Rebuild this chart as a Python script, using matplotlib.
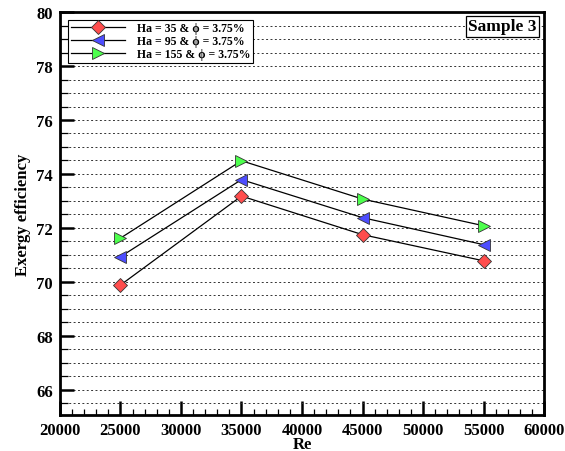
import numpy as np
import matplotlib
matplotlib.use("Agg")
import matplotlib.pyplot as plt
from matplotlib.ticker import MultipleLocator

plt.rcParams['font.family'] = ['Liberation Serif', 'DejaVu Serif']
plt.rcParams['font.weight'] = 'bold'

re_vals = [25000, 35000, 45000, 55000]
ha35 = [69.88, 73.18, 71.75, 70.78]
ha95 = [70.93, 73.79, 72.38, 71.38]
ha155 = [71.62, 74.49, 73.07, 72.08]

labels = ['Ha = 35 & \u03d5 = 3.75%',
          'Ha = 95 & \u03d5 = 3.75%',
          'Ha = 155 & \u03d5 = 3.75%']


def main():
    fig = plt.figure(figsize=(5.65, 4.52), dpi=100)
    ax = fig.add_axes([0.106, 0.080, 0.857, 0.891])

    ax.plot(re_vals, ha35, color='black', lw=0.9, marker='D', ms=7,
            mfc='#ff4d4d', mec='#333333', mew=0.6, label=labels[0])
    ax.plot(re_vals, ha95, color='black', lw=0.9, marker='<', ms=8,
            mfc='#4d4dff', mec='#333333', mew=0.6, label=labels[1])
    ax.plot(re_vals, ha155, color='black', lw=0.9, marker='>', ms=8,
            mfc='#4dff4d', mec='#333333', mew=0.6, label=labels[2])

    ax.set_xlim(20000, 60000)
    ax.set_ylim(65.07, 80)
    ax.xaxis.set_major_locator(MultipleLocator(5000))
    ax.xaxis.set_minor_locator(MultipleLocator(1000))
    ax.yaxis.set_major_locator(MultipleLocator(2))
    ax.yaxis.set_minor_locator(MultipleLocator(0.5))

    ax.grid(True, which='both', axis='y', color='#333333',
            linestyle=(0, (2, 2.5)), lw=0.7)
    ax.set_axisbelow(True)

    ax.tick_params(which='major', direction='in', length=10, width=1.8,
                   labelsize=12, right=False, top=False, pad=5)
    ax.tick_params(axis='y', which='minor', direction='in', length=6,
                   width=0.9, right=False)
    ax.tick_params(axis='x', which='minor', direction='in', length=4,
                   width=0.9, top=False)
    for lab in ax.get_xticklabels() + ax.get_yticklabels():
        lab.set_fontweight('bold')
    for sp in ax.spines.values():
        sp.set_linewidth(2)

    ax.set_xlabel('Re', fontsize=12, fontweight='bold', labelpad=-1)
    ax.set_ylabel('Exergy efficiency', fontsize=12, fontweight='bold',
                  labelpad=4)

    leg = ax.legend(loc='upper left', bbox_to_anchor=(0.005, 0.995),
                    prop={'size': 8.5, 'weight': 'bold'}, handlelength=4.6,
                    fancybox=False, edgecolor='black', framealpha=1,
                    borderpad=0.2, labelspacing=0.08, handletextpad=1.0)
    leg.get_frame().set_linewidth(0.8)

    ax.text(0.985, 0.985, 'Sample 3', transform=ax.transAxes, ha='right',
            va='top', fontsize=12.5, fontweight='bold',
            bbox=dict(boxstyle='square,pad=0.15', fc='white', ec='black',
                      lw=0.9))

    fig.savefig('out.png', dpi=100)


if __name__ == '__main__':
    main()
